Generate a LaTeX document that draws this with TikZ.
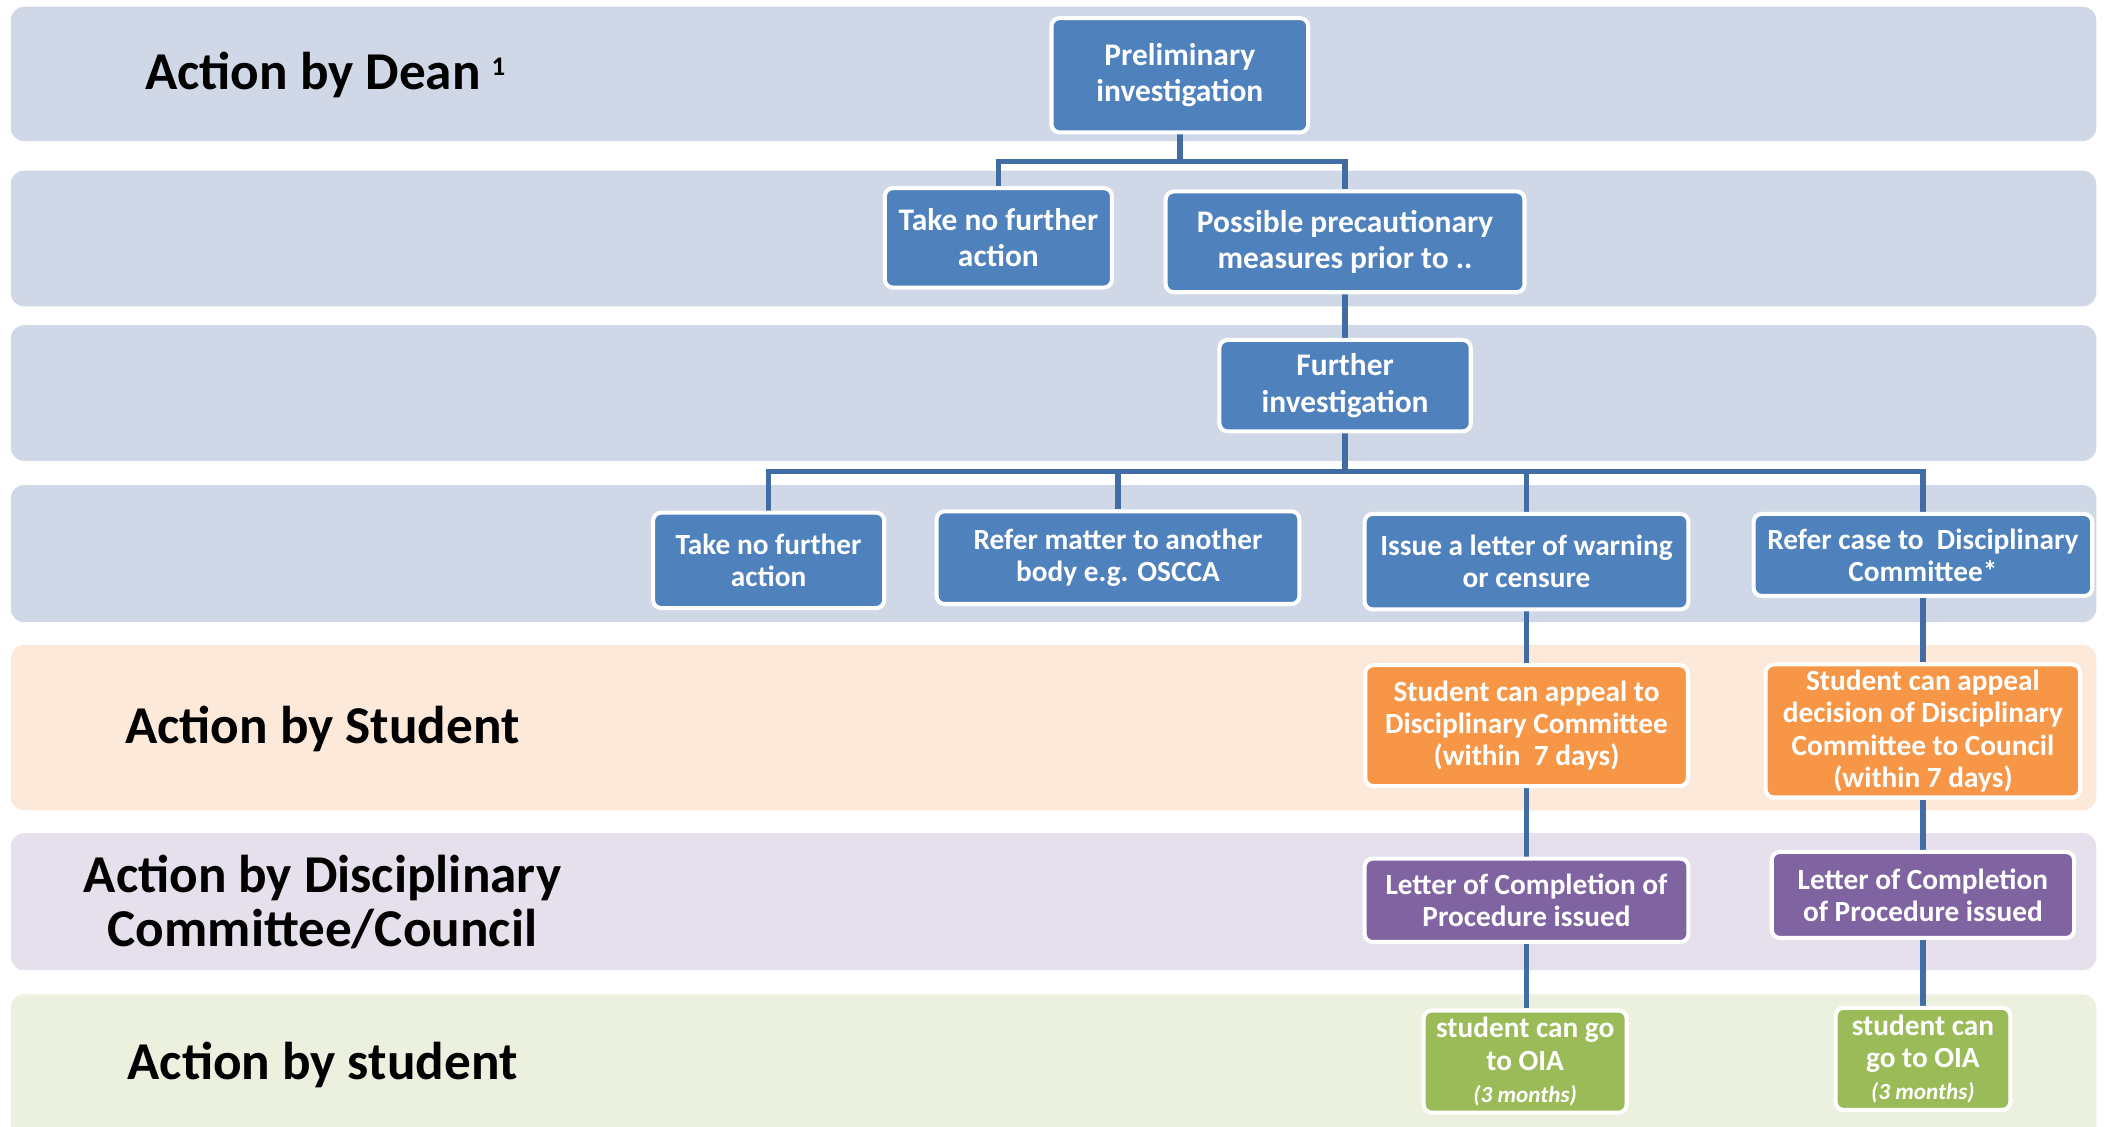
\documentclass[tikz,border=0pt]{standalone}
\usepackage{fontspec}
\setmainfont{Carlito}
\usetikzlibrary{calc}
\definecolor{bandblue}{HTML}{D0D8E8}
\definecolor{bandorange}{HTML}{FCE9DA}
\definecolor{bandpurple}{HTML}{E5E0EC}
\definecolor{bandgreen}{HTML}{EBF1DE}
\definecolor{boxblue}{HTML}{4F81BD}
\definecolor{boxorange}{HTML}{F79646}
\definecolor{boxpurple}{HTML}{8064A2}
\definecolor{boxgreen}{HTML}{9BBB59}
\definecolor{connblue}{HTML}{416CA4}
\pgfdeclarelayer{bg}
\pgfdeclarelayer{lines}
\pgfsetlayers{bg,lines,main}
\tikzset{
  box/.style={draw=white, line width=1.5pt, rounded corners=3pt, text=white,
    font=\bfseries\fontsize{10.9}{12}\selectfont, align=center, inner sep=0pt},
  bigbox/.style={box, font=\bfseries\fontsize{11.7}{13.5}\selectfont},
  bluebox/.style={fill=boxblue},
  orangebox/.style={fill=boxorange},
  purplebox/.style={fill=boxpurple},
  greenbox/.style={fill=boxgreen},
  conn/.style={draw=connblue, line width=2pt},
  lane/.style={font=\bfseries\fontsize{19.8}{20}\selectfont, align=center, inner sep=0pt},
  band/.style={rounded corners=5pt}
}
\begin{document}
\begin{tikzpicture}[x=0.5pt, y=-0.5pt]
\useasboundingbox (0,0) rectangle (1568,838);
\begin{pgfonlayer}{bg}
  \fill[white] (0,0) rectangle (1568,838);
  \fill[band, bandblue] (8,5) rectangle (1560,105);
  \fill[band, bandblue] (8,127) rectangle (1560,228);
  \fill[band, bandblue] (8,242) rectangle (1560,343);
  \fill[band, bandblue] (8,361) rectangle (1560,463);
  \fill[band, bandorange] (8,480) rectangle (1560,603);
  \fill[band, bandpurple] (8,620) rectangle (1560,722);
  \begin{scope}
    \clip (0,0) rectangle (1568,838);
    \fill[band, bandgreen] (8,740) rectangle (1560,852);
  \end{scope}
\end{pgfonlayer}

% lane labels
\node[lane, anchor=base] (ldean) at (242,66.5) {Action by Dean\hspace{4pt}\raisebox{5pt}{\fontsize{10}{10}\selectfont 1}};
\node[lane, anchor=base] (lstud) at (240,553) {Action by Student};
\node[lane] (ldisc) at (240,671) {Action by Disciplinary\\Committee/Council};
\node[lane, anchor=base] (lstud2) at (240,803) {Action by student};

% boxes
\node[bigbox, bluebox, minimum width=95.5pt, minimum height=42.5pt] (prelim) at (878,56) {Preliminary\\investigation};
\node[bigbox, bluebox, minimum width=84.5pt, minimum height=37pt] (nofa1) at (743,177) {Take no further\\action};
\node[bigbox, bluebox, minimum width=133.5pt, minimum height=37.5pt] (poss) at (1001,180) {Possible precautionary\\measures prior to ..};
\node[bigbox, bluebox, minimum width=93.5pt, minimum height=34pt] (further) at (1001,287) {Further\\investigation};

\node[box, bluebox, minimum width=86pt, minimum height=35.5pt] (nofa2) at (572,417) {Take no further\\action};
\node[box, bluebox, minimum width=135pt, minimum height=34.5pt] (refer) at (832,415) {Refer matter to another\\body e.g. OSCCA};
\node[box, bluebox, minimum width=120.5pt, minimum height=35.5pt] (issue) at (1136,418) {Issue a letter of warning\\or censure};
\node[box, bluebox, minimum width=126pt, minimum height=30.5pt] (refcase) at (1431,413) {Refer case to\ \ Disciplinary\\Committee*};

\node[box, orangebox, minimum width=120pt, minimum height=45pt] (appL) at (1136,540) {Student can appeal to\\Disciplinary Committee\\(within\ \ 7 days)};
\node[box, orangebox, minimum width=117pt, minimum height=49.5pt] (appR) at (1431,544) {Student can appeal\\decision of Disciplinary\\Committee to Council\\(within 7 days)};

\node[box, purplebox, minimum width=120.5pt, minimum height=31pt] (letL) at (1136,670) {Letter of Completion of\\Procedure issued};
\node[box, purplebox, minimum width=112.5pt, minimum height=32pt] (letR) at (1431,666) {Letter of Completion\\of Procedure issued};

\node[box, greenbox, minimum width=75.5pt, minimum height=38pt] (oiaL) at (1135,790) {student can go\\to OIA\\{\itshape\fontsize{8.6}{10}\selectfont (3 months)}};
\node[box, greenbox, minimum width=65pt, minimum height=38pt] (oiaR) at (1431,788) {student can\\go to OIA\\{\itshape\fontsize{8.6}{10}\selectfont (3 months)}};

% connectors
\coordinate (busA) at (0,120);
\coordinate (busB) at (0,351);
\begin{pgfonlayer}{lines}
  \draw[conn] (prelim.south) -- (prelim.south |- busA);
  \draw[conn] (nofa1.north) -- (nofa1.north |- busA) -- (poss.north |- busA) -- (poss.north);
  \draw[conn] (poss.south) -- (further.north);
  \draw[conn] (further.south) -- (further.south |- busB);
  \draw[conn] (nofa2.north) -- (nofa2.north |- busB) -- (refcase.north |- busB) -- (refcase.north);
  \draw[conn] (refer.north) -- (refer.north |- busB);
  \draw[conn] (issue.north) -- (issue.north |- busB);
  \draw[conn] (issue.south) -- (appL.north);
  \draw[conn] (appL.south) -- (letL.north);
  \draw[conn] (letL.south) -- (letL.south |- oiaL.north);
  \draw[conn] (refcase.south) -- (appR.north);
  \draw[conn] (appR.south) -- (letR.north);
  \draw[conn] (letR.south) -- (oiaR.north);
\end{pgfonlayer}
\end{tikzpicture}
\end{document}
